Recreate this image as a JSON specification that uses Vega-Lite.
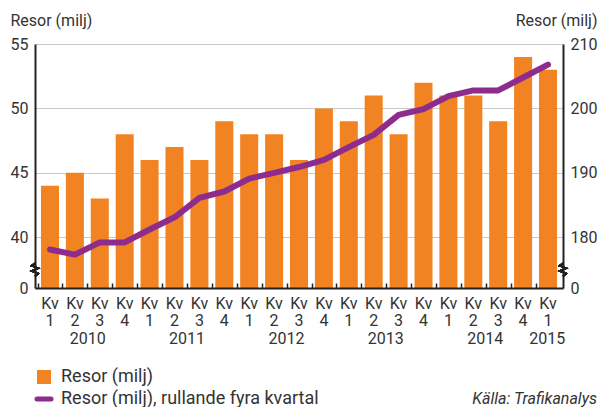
{
  "$schema": "https://vega.github.io/schema/vega-lite/v6.json",
  "width": 528,
  "height": 244,
  "autosize": {"type": "none"},
  "padding": {"left": 35, "top": 44, "right": 38, "bottom": 119},
  "background": "white",
  "config": {
    "view": {"stroke": null},
    "font": "Roboto",
    "axis": {
      "labelFont": "Roboto",
      "titleFont": "Roboto",
      "labelColor": "#333333",
      "titleColor": "#333333",
      "titleFontWeight": "normal",
      "labelFontSize": 16,
      "titleFontSize": 16,
      "domainColor": "#222222",
      "domainWidth": 2,
      "gridColor": "#c8c8c8",
      "gridWidth": 1,
      "tickColor": "#222222"
    },
    "legend": {"labelFont": "Roboto", "labelColor": "#333333", "labelFontSize": 18, "labelLimit": 0}
  },
  "title": {
    "text": "Källa: Trafikanalys",
    "orient": "bottom",
    "anchor": "end",
    "frame": "bounds",
    "font": "Roboto",
    "fontStyle": "italic",
    "fontWeight": "normal",
    "fontSize": 16,
    "color": "#333333",
    "offset": -18
  },
  "data": {
    "values": [
      {"period": "2010-1", "resor": 44, "rullande": 178.1},
      {"period": "2010-2", "resor": 45, "rullande": 177.3},
      {"period": "2010-3", "resor": 43, "rullande": 179.2},
      {"period": "2010-4", "resor": 48, "rullande": 179.2},
      {"period": "2011-1", "resor": 46, "rullande": 181.2},
      {"period": "2011-2", "resor": 47, "rullande": 183.1},
      {"period": "2011-3", "resor": 46, "rullande": 186.1},
      {"period": "2011-4", "resor": 49, "rullande": 187.1},
      {"period": "2012-1", "resor": 48, "rullande": 189.1},
      {"period": "2012-2", "resor": 48, "rullande": 190.0},
      {"period": "2012-3", "resor": 46, "rullande": 190.9},
      {"period": "2012-4", "resor": 50, "rullande": 192.0},
      {"period": "2013-1", "resor": 49, "rullande": 194.0},
      {"period": "2013-2", "resor": 51, "rullande": 195.9},
      {"period": "2013-3", "resor": 48, "rullande": 199.0},
      {"period": "2013-4", "resor": 52, "rullande": 199.9},
      {"period": "2014-1", "resor": 51, "rullande": 201.9},
      {"period": "2014-2", "resor": 51, "rullande": 202.8},
      {"period": "2014-3", "resor": 49, "rullande": 202.8},
      {"period": "2014-4", "resor": 54, "rullande": 204.8},
      {"period": "2015-1", "resor": 53, "rullande": 206.8}
    ]
  },
  "layer": [
    {
      "mark": {"type": "bar"},
      "encoding": {
        "x": {
          "field": "period",
          "type": "nominal",
          "sort": null,
          "scale": {"type": "band", "paddingInner": 0.276, "paddingOuter": 0.24},
          "axis": {
            "title": null,
            "labelAngle": 0,
            "labelExpr": "['Kv', split(datum.value, '-')[1]]",
            "labelLineHeight": 17,
            "labelPadding": 7,
            "labelBaseline": "top",
            "labelFlush": false,
            "labelOverlap": false,
            "ticks": false,
            "zindex": 1
          }
        },
        "y": {
          "field": "resor",
          "type": "quantitative",
          "scale": {"domain": [36.06, 55], "nice": false, "zero": false},
          "axis": {
            "title": "Resor (milj)",
            "titleAngle": 0,
            "titleAlign": "left",
            "titleBaseline": "middle",
            "titleX": -25,
            "titleY": -24,
            "values": [36.06, 40, 45, 50, 55],
            "labelExpr": "datum.value < 38 ? '0' : datum.label",
            "ticks": false,
            "labelPadding": 7,
            "grid": true
          }
        },
        "y2": {"datum": 36.06},
        "color": {
          "datum": "Resor (milj)",
          "type": "nominal",
          "scale": {
            "domain": ["Resor (milj)", "Resor (milj), rullande fyra kvartal"],
            "range": ["#F28322", "#8E2C8E"]
          },
          "legend": {
            "title": null,
            "orient": "none",
            "legendX": 0,
            "legendY": 324,
            "direction": "vertical",
            "rowPadding": 3,
            "labelOffset": 8,
            "symbolSize": 196,
            "labelLimit": 0,
            "encode": {
              "symbols": {
                "update": {
                  "shape": {"signal": "datum.value == 'Resor (milj)' ? 'square' : 'stroke'"},
                  "fill": {"signal": "datum.value == 'Resor (milj)' ? '#F28322' : 'transparent'"},
                  "stroke": {"signal": "datum.value == 'Resor (milj)' ? 'transparent' : '#8E2C8E'"},
                  "strokeWidth": {"signal": "datum.value == 'Resor (milj)' ? 0 : 5"},
                  "strokeCap": {"value": "round"},
                  "opacity": {"value": 1}
                }
              }
            }
          }
        }
      }
    },
    {
      "mark": {"type": "line", "strokeWidth": 6, "strokeCap": "round", "strokeJoin": "round"},
      "encoding": {
        "x": {
          "field": "period",
          "type": "nominal",
          "sort": null,
          "scale": {"type": "band", "paddingInner": 0.276, "paddingOuter": 0.24},
          "axis": {
            "orient": "bottom",
            "title": null,
            "labels": false,
            "domain": false,
            "grid": false,
            "ticks": true,
            "tickSize": -5,
            "tickWidth": 1.5,
            "tickOffset": -12.4,
            "zindex": 1
          }
        },
        "y": {
          "field": "rullande",
          "type": "quantitative",
          "scale": {"domain": [172.12, 210], "nice": false, "zero": false},
          "axis": {
            "orient": "right",
            "title": "Resor (milj)",
            "titleAngle": 0,
            "titleAlign": "right",
            "titleBaseline": "middle",
            "titleX": 34,
            "titleY": -24,
            "values": [172.12, 180, 190, 200, 210],
            "labelExpr": "datum.value < 175 ? '0' : datum.label",
            "ticks": false,
            "labelPadding": 7,
            "grid": false
          }
        },
        "color": {"datum": "Resor (milj), rullande fyra kvartal", "type": "nominal"}
      }
    },
    {
      "mark": {"type": "point", "shape": "M0,-1L-0.5,-0.6L0.5,-0.2L-0.5,0.2L0.5,0.6L0,1", "filled": false, "stroke": "#222222", "strokeWidth": 1.5, "size": 169, "opacity": 1},
      "encoding": {
        "x": {
          "datum": -0.6,
          "type": "quantitative",
          "scale": {"domain": [-0.6, 20.65], "nice": false, "zero": false},
          "axis": {
            "orient": "bottom",
            "title": null,
            "values": [1.5, 5.5, 9.5, 13.5, 17.5, 20],
            "labelExpr": "toString(2010 + floor((datum.value + 0.5) / 4))",
            "domain": false,
            "ticks": false,
            "grid": false,
            "labelPadding": 42,
            "labelBaseline": "top",
            "labelFlush": false,
            "labelOverlap": false
          }
        },
        "y": {
          "datum": 37.49,
          "type": "quantitative",
          "scale": {"domain": [36.06, 55], "nice": false, "zero": false},
          "axis": null
        }
      }
    },
    {
      "mark": {"type": "point", "shape": "M0,-1L-0.5,-0.6L0.5,-0.2L-0.5,0.2L0.5,0.6L0,1", "filled": false, "stroke": "#222222", "strokeWidth": 1.5, "size": 169, "opacity": 1},
      "encoding": {
        "x": {
          "datum": 20.65,
          "type": "quantitative",
          "scale": {"domain": [-0.6, 20.65], "nice": false, "zero": false},
          "axis": null
        },
        "y": {
          "datum": 37.49,
          "type": "quantitative",
          "scale": {"domain": [36.06, 55], "nice": false, "zero": false},
          "axis": null
        }
      }
    }
  ],
  "resolve": {"scale": {"x": "independent", "y": "independent"}, "axis": {"x": "independent", "y": "independent"}}
}
